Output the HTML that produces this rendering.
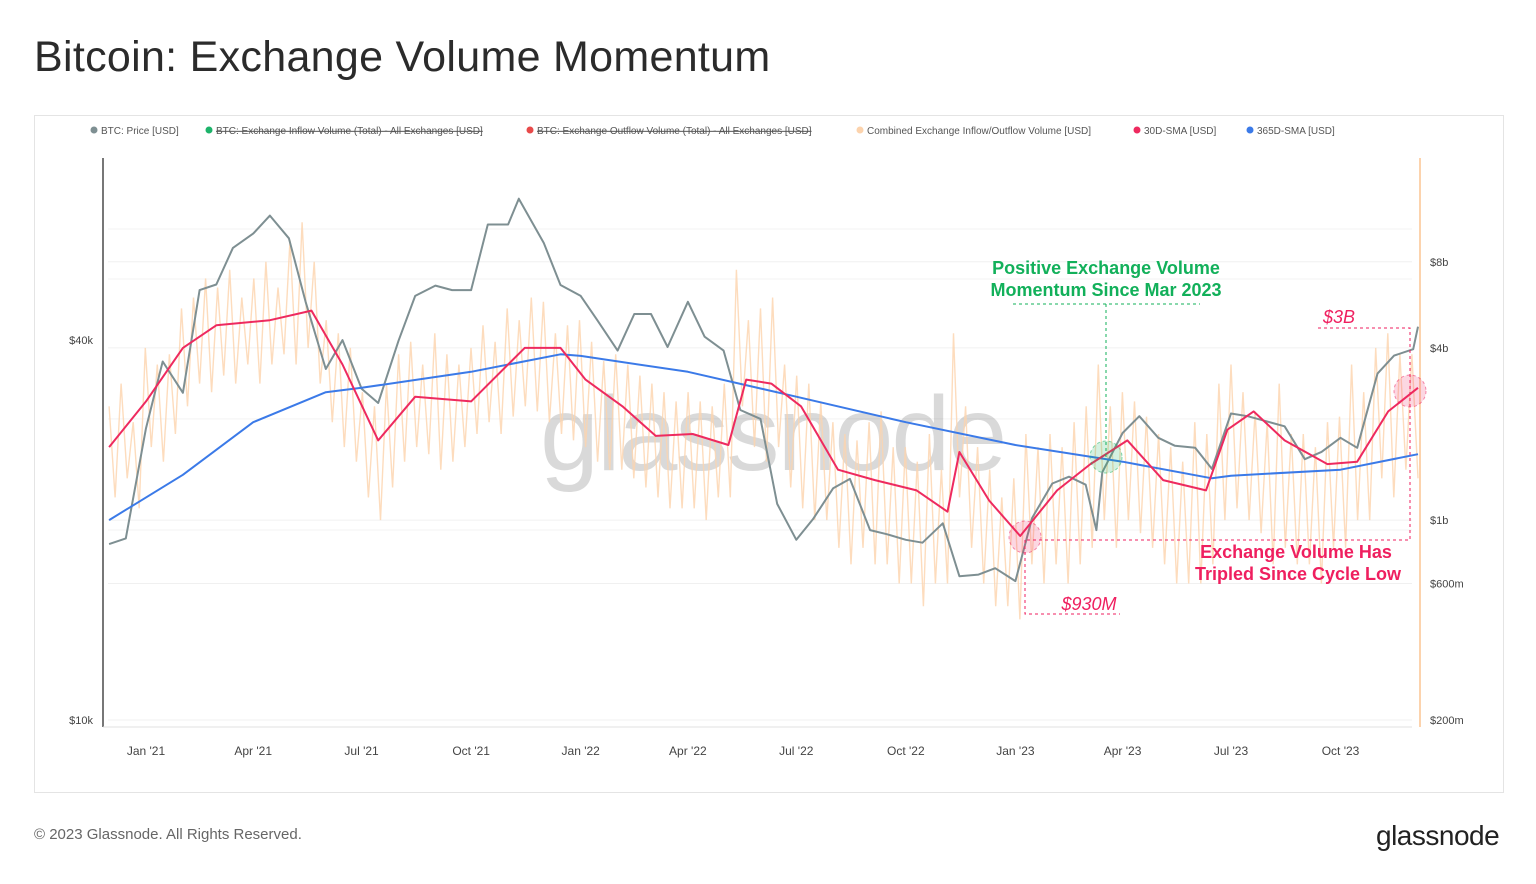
<!DOCTYPE html>
<html><head><meta charset="utf-8">
<style>
body{margin:0;width:1536px;height:884px;background:#fff;font-family:"Liberation Sans",sans-serif;overflow:hidden;position:relative}
#title{position:absolute;left:34px;top:33px;font-size:43px;color:#2b2b2b;margin:0;font-weight:normal;letter-spacing:0.3px}
#panel{position:absolute;left:34px;top:115px;width:1468px;height:676px;border:1px solid #e4e4e4}
#foot{position:absolute;left:34px;top:826px;font-size:15px;color:#666}
#logo{position:absolute;left:1376px;top:820px;font-size:28px;color:#222;letter-spacing:-0.5px}
svg{position:absolute;left:0;top:0}
</style></head><body>
<h1 id="title">Bitcoin: Exchange Volume Momentum</h1>
<div id="panel"></div>
<div id="foot">© 2023 Glassnode. All Rights Reserved.</div>
<div id="logo">glassnode</div>
<svg id="chart" width="1536" height="884" font-family="Liberation Sans, sans-serif"></svg>
<script>
const priceDates=["2020-12-01","2020-12-15","2021-01-01","2021-01-15","2021-02-01","2021-02-15","2021-03-01","2021-03-15","2021-04-01","2021-04-15","2021-05-01","2021-05-15","2021-06-01","2021-06-15","2021-07-01","2021-07-15","2021-08-01","2021-08-15","2021-09-01","2021-09-15","2021-10-01","2021-10-15","2021-11-01","2021-11-10","2021-12-01","2021-12-15","2022-01-01","2022-01-15","2022-02-01","2022-02-15","2022-03-01","2022-03-15","2022-04-01","2022-04-15","2022-05-01","2022-05-15","2022-06-01","2022-06-15","2022-07-01","2022-07-15","2022-08-01","2022-08-15","2022-09-01","2022-09-15","2022-10-01","2022-10-15","2022-11-01","2022-11-15","2022-12-01","2022-12-15","2023-01-01","2023-01-15","2023-02-01","2023-02-15","2023-03-01","2023-03-10","2023-03-15","2023-04-01","2023-04-15","2023-05-01","2023-05-15","2023-06-01","2023-06-15","2023-07-01","2023-07-15","2023-08-01","2023-08-15","2023-09-01","2023-09-15","2023-10-01","2023-10-15","2023-11-01","2023-11-15","2023-12-01","2023-12-05"];
const priceValues=[19000,19400,29000,37000,33000,48000,49000,56000,59000,63000,58000,46000,36000,40000,33500,31800,39900,47000,48800,48000,48000,61000,61000,67000,57000,48900,47000,43000,38500,44000,44000,39000,46000,40500,38500,31000,30000,22000,19300,20800,23300,24100,20000,19700,19300,19100,20500,16900,17000,17400,16600,20900,23700,24300,23600,20000,24700,28500,30300,28000,27200,27000,25000,30600,30300,29700,29200,25900,26600,28000,27000,35400,37800,38700,42000];
const smaDates=["2020-12-01","2021-01-01","2021-02-01","2021-03-01","2021-04-15","2021-05-20","2021-06-15","2021-07-15","2021-08-15","2021-10-01","2021-11-15","2021-12-15","2022-01-05","2022-02-05","2022-03-05","2022-04-05","2022-05-05","2022-05-20","2022-06-10","2022-07-05","2022-08-05","2022-09-05","2022-10-10","2022-11-05","2022-11-15","2022-12-10","2023-01-05","2023-02-05","2023-03-05","2023-04-05","2023-05-05","2023-06-10","2023-06-28","2023-07-20","2023-08-15","2023-09-20","2023-10-15","2023-11-10","2023-12-05"];
const sma30=[1.8,2.6,4.0,4.8,5.0,5.4,3.5,1.9,2.7,2.6,4.0,4.0,3.1,2.5,1.97,2.0,1.83,3.1,3.0,2.5,1.5,1.38,1.27,1.07,1.73,1.17,0.88,1.27,1.57,1.9,1.38,1.27,2.07,2.4,1.9,1.57,1.6,2.4,2.9];
const sma365Dates=["2020-12-01","2021-02-01","2021-04-01","2021-06-01","2021-07-01","2021-10-01","2021-12-15","2022-01-01","2022-04-01","2022-07-01","2022-10-01","2023-01-01","2023-04-01","2023-06-15","2023-07-01","2023-10-01","2023-12-05"];
const sma365=[1.0,1.44,2.2,2.8,2.9,3.3,3.8,3.75,3.3,2.7,2.2,1.83,1.6,1.4,1.43,1.5,1.7];
const volValues=[2.5,1.2,3.0,1.4,2.2,1.1, 4.0,1.8,3.5,1.6,3.8,2.0, 5.5,2.5,6.0,3.0,7.0,2.8, 6.5,3.2,7.5,3.0,6.0,3.5, 7.0,3.0,8.0,3.5,6.5,3.8, 9.5,3.5,11,4.0,8.0,3.0, 5.0,2.2,4.5,1.8,4.0,1.6, 2.8,1.2,2.5,1.0,3.0,1.3, 3.8,1.6,4.2,1.8,3.5,1.7, 4.5,1.5,3.8,1.6,3.5,1.8, 4.0,2.0,4.8,2.2,4.2,2.0, 5.5,2.3,5.0,2.5,6.0,2.4, 5.8,2.2,4.5,2.0,4.8,1.9, 5.0,1.8,4.2,1.6,3.6,1.5, 3.8,1.5,3.5,1.4,3.2,1.3, 3.0,1.2,2.8,1.1,2.6,1.1, 2.8,1.1,2.6,1.0,2.5,1.2, 3.0,1.2,7.5,2.5,5.0,1.8, 5.5,1.6,6.0,1.8,3.5,1.3, 3.2,1.1,3.0,1.0,2.6,1.0, 2.2,0.8,2.0,0.7,1.9,0.8, 2.2,0.7,2.4,0.7,1.8,0.6, 1.8,0.6,1.6,0.5,2.0,0.6, 1.5,0.6,4.5,1.2,2.5,0.8, 1.8,0.6,1.5,0.5,1.2,0.5, 1.4,0.45,2.0,0.7,1.8,0.6, 2.0,0.7,1.8,0.6,2.2,0.7, 2.5,0.8,3.5,1.0,2.5,0.8, 2.8,1.0,2.6,0.9,2.3,0.8, 2.0,0.7,1.8,0.6,1.6,0.6, 2.2,0.6,2.0,0.7,3.0,1.0, 3.5,1.1,2.8,1.0,2.4,0.9, 2.2,0.7,3.0,0.8,2.0,0.7, 2.0,0.7,1.8,0.6,2.2,0.8, 2.3,0.8,3.5,1.0,2.8,1.0, 4.0,1.4,4.5,1.2,3.8,1.5, 3.8,1.4];
const xTickLabels=["Jan '21","Apr '21","Jul '21","Oct '21","Jan '22","Apr '22","Jul '22","Oct '22","Jan '23","Apr '23","Jul '23","Oct '23"];
const xTickDates=["2021-01-01","2021-04-01","2021-07-01","2021-10-01","2022-01-01","2022-04-01","2022-07-01","2022-10-01","2023-01-01","2023-04-01","2023-07-01","2023-10-01"];
const priceTickLabels=["$10k","$40k"];
const priceTickValues=[10000,40000];
const volTickLabels=["$200m","$600m","$1b","$4b","$8b"];
const volTickValues=[0.2,0.6,1,4,8];

const NS="http://www.w3.org/2000/svg";
const svg=document.getElementById('chart');
const D0=Date.parse("2021-01-01"),PXY=435/365.25/864e5;
function x(d){return 146+(Date.parse(d)-D0)*PXY;}
function yP(v){return 720-Math.log10(v/10000)*631;}
function yV(v){return 720-Math.log10(v/0.2)*286;}
function el(t,a,p){const e=document.createElementNS(NS,t);for(const k in a)e.setAttribute(k,a[k]);(p||svg).appendChild(e);return e;}

volTickValues.forEach(v=>{const l=el('line',{x1:108,x2:1412,y1:yV(v),y2:yV(v),stroke:'#f0f0f0'});

});
[20000,30000,50000,60000].forEach(v=>{const l=el('line',{x1:108,x2:1412,y1:yP(v),y2:yP(v),stroke:'#f3f3f3'});

});

const wm=el('text',{x:540,y:470,'font-size':106,fill:'#000','fill-opacity':0.15,'letter-spacing':'-2'});
wm.textContent='glassnode';



const vStart=Date.parse("2020-12-01"),vEnd=Date.parse("2023-12-05");
const step=(vEnd-vStart)/(volValues.length-1);
const vp=volValues.map((v,i)=>{const xx=146+(vStart+i*step-D0)*PXY;return xx.toFixed(1)+','+yV(v).toFixed(1);}).join(' ');
const vl=el('polyline',{points:vp,fill:'none',stroke:'#fcd3ad',"stroke-width":1.4,"stroke-opacity":0.8});



function line(ds,vs,fy,col,w,name){const p=ds.map((d,i)=>x(d).toFixed(1)+','+fy(vs[i]).toFixed(1)).join(' ');
const l=el('polyline',{points:p,fill:'none',stroke:col,'stroke-width':w,'stroke-linejoin':'round'});

}
line(priceDates,priceValues,yP,'#7e8f92',2,'btc-price-line');
line(sma365Dates,sma365,yV,'#3b7ae8',2,'sma365-line');
line(smaDates,sma30,yV,'#ee2a5f',2,'sma30-line');

el('line',{x1:103,x2:103,y1:158,y2:727,stroke:'#777','stroke-width':2});
el('line',{x1:1420,x2:1420,y1:158,y2:727,stroke:'#fcd3ad','stroke-width':2});
el('line',{x1:103,x2:1412,y1:727,y2:727,stroke:'#e0e0e0'});
xTickLabels.forEach((t,i)=>{const e=el('text',{x:x(xTickDates[i]),y:755,'font-size':12,fill:'#444','text-anchor':'middle'});e.textContent=t;

});
priceTickLabels.forEach((t,i)=>{const e=el('text',{x:93,y:yP(priceTickValues[i])+4,'font-size':11,fill:'#444','text-anchor':'end'});e.textContent=t;

});
volTickLabels.forEach((t,i)=>{const e=el('text',{x:1430,y:yV(volTickValues[i])+4,'font-size':11,fill:'#444'});e.textContent=t;

});

const leg=[["BTC: Price [USD]","#7e8f92",false],["BTC: Exchange Inflow Volume (Total) - All Exchanges [USD]","#1db36a",true],["BTC: Exchange Outflow Volume (Total) - All Exchanges [USD]","#e84a4a",true],["Combined Exchange Inflow/Outflow Volume [USD]","#fcd3ad",false],["30D-SMA [USD]","#ee2a5f",false],["365D-SMA [USD]","#3b7ae8",false]];
const legX=[90,205,526,856,1133,1246];
leg.forEach((g,i)=>{el('circle',{cx:legX[i]+4,cy:130,r:3.5,fill:g[1]});
const t=el('text',{x:legX[i]+11,y:134,'font-size':10,fill:'#555','text-decoration':g[2]?'line-through':'none'});t.textContent=g[0];

});

const G='#12b05a',R='#ef1f5f';
el('path',{d:'M1013 304H1200M1106 304V460',stroke:G,'stroke-dasharray':'3 3',fill:'none'});
el('circle',{cx:1106,cy:457,r:16,fill:G,'fill-opacity':0.18,stroke:G,'stroke-dasharray':'3 3','stroke-opacity':0.5});
[["Positive Exchange Volume",274],["Momentum Since Mar 2023",296]].forEach(a=>{const t=el('text',{x:1106,y:a[1],'font-size':18,'font-weight':'bold',fill:G,'text-anchor':'middle'});t.textContent=a[0];

});
el('path',{d:'M1318 328H1410V540H1025M1025 540V614H1120',stroke:R,'stroke-dasharray':'3 3',fill:'none'});
el('circle',{cx:1410,cy:391,r:16,fill:R,'fill-opacity':0.18,stroke:R,'stroke-dasharray':'3 3','stroke-opacity':0.5});
el('circle',{cx:1025,cy:537,r:16,fill:R,'fill-opacity':0.18,stroke:R,'stroke-dasharray':'3 3','stroke-opacity':0.5});
[["$3B",1339,323,18,'middle','normal'],["$930M",1089,610,18,'middle','normal'],["Exchange Volume Has",1296,558,18,'middle','bold'],["Tripled Since Cycle Low",1298,580,18,'middle','bold']].forEach(a=>{
const t=el('text',{x:a[1],y:a[2],'font-size':a[3],'text-anchor':a[4],'font-weight':a[5],fill:R,'font-style':a[5]=='normal'?'italic':'normal'});t.textContent=a[0];

});
</script>
</body></html>
